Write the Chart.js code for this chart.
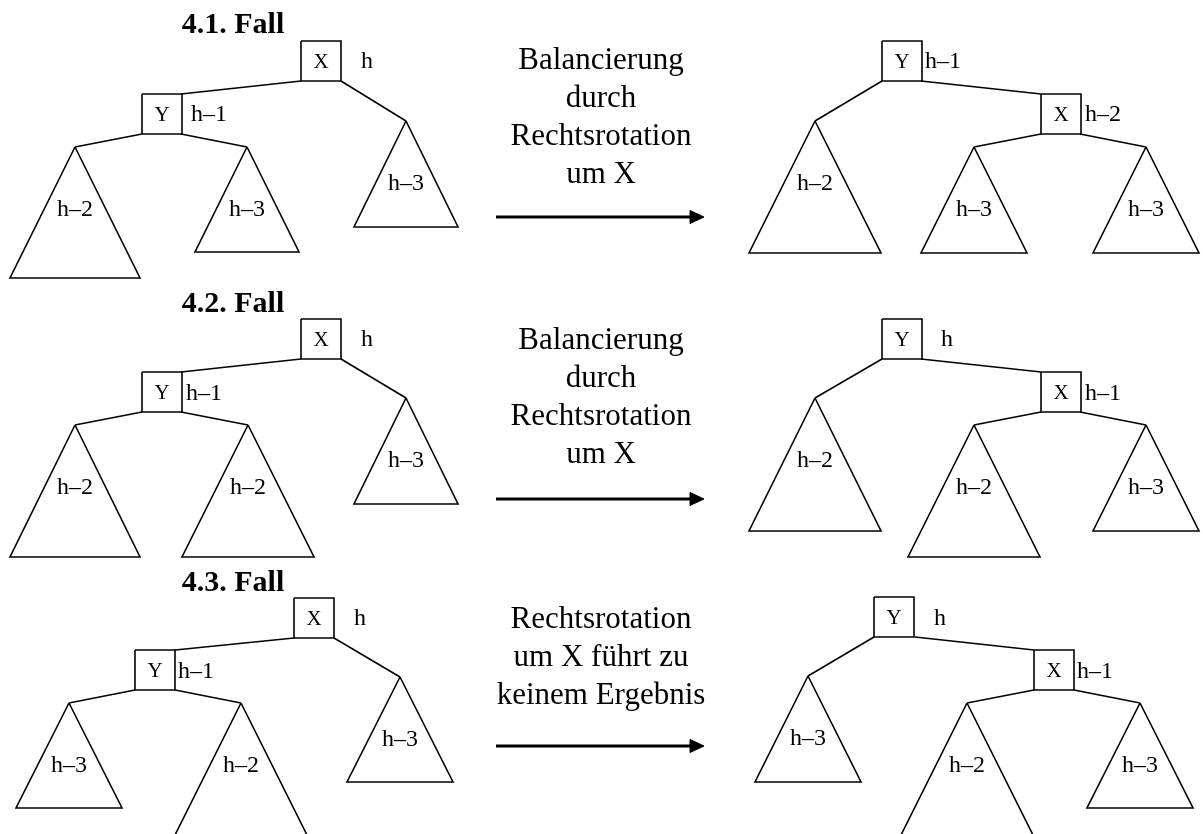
<!DOCTYPE html>
<html>
<head>
<meta charset="utf-8">
<script src="https://cdn.jsdelivr.net/npm/chart.js@4.4.0/dist/chart.umd.min.js"></script>
<style>
  body { margin: 0; background: #fff; }
  #wrap { width: 1203px; height: 834px; }
</style>
</head>
<body>
<div id="wrap"><canvas id="myChart"></canvas></div>
<script>
// Diagram data (coordinates in the drawing's own 1203 x 834 units)
const titles = ['4.1. Fall', '4.2. Fall', '4.3. Fall'];
const titleBase = [33, 312, 591];

// node boxes: [letter, left, top]
const nodes = [
    ['X', 301, 41], ['Y', 142, 94],
    ['Y', 882, 41], ['X', 1041, 94],
    ['X', 301, 319], ['Y', 142, 372],
    ['Y', 882, 319], ['X', 1041, 372],
    ['X', 294, 598], ['Y', 135, 650],
    ['Y', 874, 597], ['X', 1034, 650],
];

// height next to each node: [text, left, middle]
const nodeHeights = [
    ['h', 361, 60], ['h–1', 191, 113],
    ['h–1', 925, 60], ['h–2', 1085, 113],
    ['h', 361, 338], ['h–1', 186, 392],
    ['h', 941, 338], ['h–1', 1085, 392],
    ['h', 354, 617], ['h–1', 178, 670],
    ['h', 934, 617], ['h–1', 1077, 670],
];

// subtrees: [label, apexX, apexY, baseY, halfBase]
const subtrees = [
    ['h–2', 75, 147, 278, 65], ['h–3', 247, 147, 252, 52], ['h–3', 406, 121, 227, 52],
    ['h–2', 815, 121, 253, 66], ['h–3', 974, 147, 253, 53], ['h–3', 1146, 147, 253, 53],
    ['h–2', 75, 425, 557, 65], ['h–2', 248, 425, 557, 66], ['h–3', 406, 398, 504, 52],
    ['h–2', 815, 398, 531, 66], ['h–2', 974, 425, 557, 66], ['h–3', 1146, 425, 531, 53],
    ['h–3', 69, 703, 808, 53], ['h–2', 241, 703, 835, 66], ['h–3', 400, 677, 782, 53],
    ['h–3', 808, 676, 782, 53], ['h–2', 967, 703, 835, 66], ['h–3', 1140, 703, 808, 53],
];

// edges: [x1, y1, x2, y2]
const edges = [
    [301, 81, 181, 94], [341, 81, 406, 121], [142, 134, 75, 147], [181, 134, 247, 147],
    [882, 81, 815, 121], [921, 81, 1041, 94], [1041, 134, 974, 147], [1080, 134, 1146, 147],
    [301, 359, 181, 372], [341, 359, 406, 398], [142, 412, 75, 425], [181, 412, 248, 425],
    [882, 359, 815, 398], [921, 359, 1041, 372], [1041, 412, 974, 425], [1080, 412, 1146, 425],
    [294, 638, 175, 650], [334, 638, 400, 677], [135, 690, 69, 703], [175, 690, 241, 703],
    [874, 637, 808, 676], [915, 637, 1034, 650], [1034, 690, 967, 703], [1074, 690, 1140, 703],
];

// arrows: [x1, x2, y]
const arrows = [[496, 704, 217], [496, 704, 499], [496, 704, 746]];

// explanation text between the trees
const notes = [
    ['Balancierung', 'durch', 'Rechtsrotation', 'um X'],
    ['Balancierung', 'durch', 'Rechtsrotation', 'um X'],
    ['Rechtsrotation', 'um X führt zu', 'keinem Ergebnis'],
];
const noteBase = [69, 349, 628];

const BOX = 40;
const ink = '#000';

const datasets = [];
const lineSet = (pts, width) => ({
    data: pts,
    showLine: true,
    borderColor: ink,
    borderWidth: width || 1.6,
    pointRadius: 0,
    fill: false,
    tension: 0,
    clip: false,
});

nodes.forEach(([, l, t]) => {
    datasets.push(lineSet([
        { x: l, y: t }, { x: l + BOX, y: t }, { x: l + BOX, y: t + BOX },
        { x: l, y: t + BOX }, { x: l, y: t },
    ]));
});

subtrees.forEach(([, ax, ay, by, hw]) => {
    datasets.push(lineSet([
        { x: ax, y: ay }, { x: ax + hw, y: by }, { x: ax - hw, y: by }, { x: ax, y: ay },
    ]));
});

edges.forEach(([x1, y1, x2, y2]) => {
    datasets.push(lineSet([{ x: x1, y: y1 }, { x: x2, y: y2 }]));
});

arrows.forEach(([x1, x2, y]) => {
    datasets.push(lineSet([{ x: x1, y: y }, { x: x2 - 10, y: y }], 2.8));
    const head = lineSet([
        { x: x2 - 14, y: y - 6.5 }, { x: x2, y: y }, { x: x2 - 14, y: y + 6.5 }, { x: x2 - 14, y: y - 6.5 },
    ], 1);
    head.fill = 'shape';
    head.backgroundColor = ink;
    datasets.push(head);
});

// text drawn through the chart's scales
const textPlugin = {
    id: 'diagramText',
    afterDatasetsDraw(chart) {
        const { ctx, scales: { x, y } } = chart;
        const put = (str, px, py, font, align) => {
            ctx.save();
            ctx.font = font;
            ctx.fillStyle = ink;
            ctx.textAlign = align;
            ctx.textBaseline = 'alphabetic';
            ctx.fillText(str, x.getPixelForValue(px), y.getPixelForValue(py));
            ctx.restore();
        };
        const serif = '"Liberation Serif", "Times New Roman", serif';

        titles.forEach((t, i) => put(t, 233, titleBase[i], 'bold 30px ' + serif, 'center'));
        nodes.forEach(([s, l, t]) => put(s, l + BOX / 2, t + BOX / 2 + 7, '21px ' + serif, 'center'));
        nodeHeights.forEach(([s, l, m]) => put(s, l, m + 8, '24px ' + serif, 'left'));
        subtrees.forEach(([s, ax, ay]) => put(s, ax, ay + 61 + 8, '24px ' + serif, 'center'));
        notes.forEach((lines, i) => {
            lines.forEach((s, j) => put(s, 601, noteBase[i] + j * 38, '31px ' + serif, 'center'));
        });
    },
};

const ctx = document.getElementById('myChart').getContext('2d');

const myChart = new Chart(ctx, {
    type: 'scatter',
    data: { datasets: datasets },
    options: {
        responsive: true,
        maintainAspectRatio: false,
        animation: false,
        layout: { padding: 0 },
        plugins: { legend: { display: false }, tooltip: { enabled: false } },
        scales: {
            x: { type: 'linear', min: 0, max: 1203, display: false },
            y: { type: 'linear', min: 0, max: 834, reverse: true, display: false },
        },
    },
    plugins: [textPlugin],
});
</script>
</body>
</html>
